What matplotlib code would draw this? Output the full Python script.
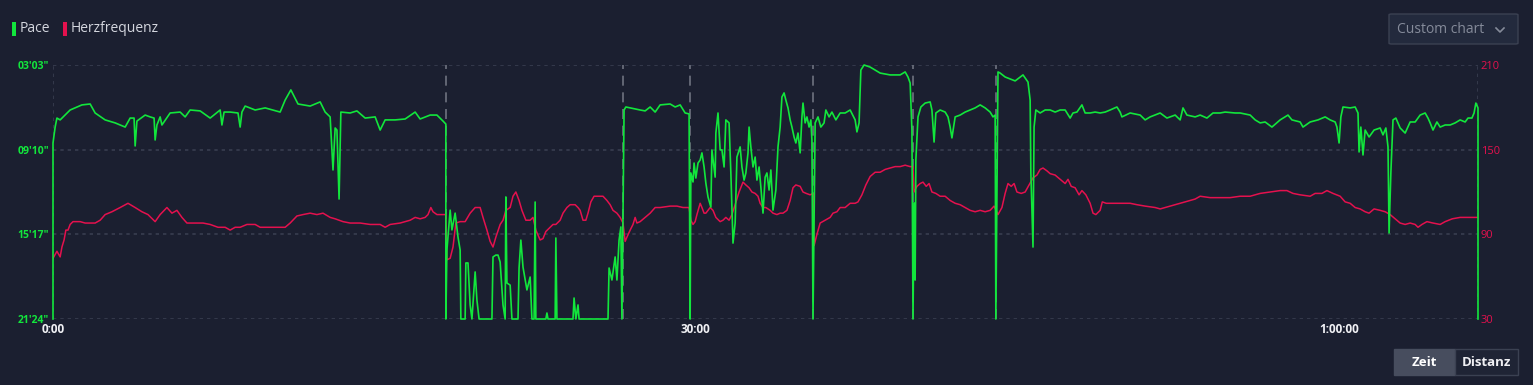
import numpy as np
import matplotlib
matplotlib.use("Agg")
import matplotlib.pyplot as plt
from matplotlib.patches import FancyBboxPatch, Rectangle
from matplotlib.lines import Line2D
from matplotlib.ticker import FuncFormatter

# elapsed time [s] and pace [s/km]; 1284 s/km = standing (bottom of axis)
pace_t = [0, 0, 6, 11, 20, 48, 81, 104, 118, 146, 174, 202, 216, 227, 230, 235, 258, 272, 283, 286,
          291, 300, 305, 328, 356, 370, 384, 412, 440, 468, 473, 479, 496, 518, 524, 529, 538, 566, 594, 636,
          650, 666, 686, 720, 748, 762, 776, 784, 790, 795, 801, 806, 832, 851, 874, 902, 916, 930, 958, 986,
          1014, 1028, 1056, 1075, 1092, 1100, 1100, 1103, 1106, 1112, 1117, 1126, 1134, 1140, 1142, 1154, 1156, 1162, 1168, 1173,
          1182, 1187, 1193, 1229, 1232, 1240, 1246, 1252, 1260, 1266, 1268, 1271, 1280, 1285, 1302, 1305, 1310, 1316, 1327, 1336,
          1341, 1347, 1350, 1352, 1380, 1383, 1386, 1406, 1408, 1411, 1456, 1459, 1464, 1470, 1473, 1554, 1557, 1565, 1574, 1579,
          1585, 1590, 1593, 1599, 1604, 1616, 1644, 1658, 1672, 1686, 1700, 1728, 1742, 1756, 1770, 1781, 1784, 1786, 1792, 1795,
          1800, 1806, 1812, 1817, 1823, 1828, 1834, 1842, 1845, 1854, 1856, 1862, 1868, 1873, 1879, 1884, 1893, 1898, 1904, 1910,
          1915, 1924, 1929, 1935, 1940, 1946, 1949, 1954, 1960, 1966, 1971, 1977, 1982, 1988, 1994, 1999, 2005, 2010, 2016, 2024,
          2030, 2036, 2041, 2047, 2052, 2058, 2064, 2069, 2075, 2080, 2086, 2092, 2097, 2100, 2106, 2111, 2117, 2122, 2125, 2128,
          2134, 2142, 2150, 2159, 2164, 2173, 2181, 2192, 2204, 2218, 2232, 2246, 2251, 2257, 2262, 2271, 2288, 2302, 2316, 2344,
          2372, 2386, 2394, 2400, 2405, 2408, 2411, 2414, 2416, 2422, 2430, 2442, 2456, 2461, 2467, 2472, 2484, 2498, 2506, 2512,
          2517, 2526, 2540, 2554, 2568, 2582, 2596, 2610, 2624, 2632, 2638, 2640, 2646, 2652, 2666, 2694, 2716, 2730, 2736, 2738,
          2744, 2747, 2752, 2764, 2778, 2792, 2806, 2820, 2834, 2848, 2856, 2867, 2881, 2890, 2904, 2918, 2932, 2946, 2960, 2979,
          2988, 2993, 3016, 3044, 3058, 3072, 3100, 3119, 3142, 3156, 3164, 3175, 3198, 3212, 3231, 3248, 3268, 3282, 3310, 3324,
          3352, 3366, 3380, 3394, 3413, 3436, 3458, 3469, 3492, 3500, 3520, 3542, 3562, 3576, 3590, 3595, 3601, 3606, 3612, 3632,
          3646, 3654, 3657, 3662, 3668, 3674, 3685, 3699, 3716, 3724, 3732, 3738, 3741, 3746, 3752, 3760, 3772, 3786, 3800, 3814,
          3828, 3842, 3850, 3856, 3864, 3875, 3884, 3898, 3912, 3926, 3940, 3954, 3962, 3973, 3979, 3984, 3990, 3990]
pace_s = [1284, 521, 452, 413, 421, 378, 356, 352, 391, 421, 434, 452, 413, 413, 534, 426, 400, 408, 413, 508,
          443, 408, 443, 391, 387, 408, 378, 382, 413, 378, 443, 387, 387, 391, 452, 387, 361, 378, 369, 387,
          335, 291, 352, 361, 343, 387, 408, 638, 456, 465, 764, 387, 391, 382, 413, 408, 465, 421, 421, 417,
          387, 417, 400, 400, 426, 439, 1284, 985, 929, 812, 898, 825, 929, 985, 1284, 1284, 1041, 1041, 1223, 1284,
          1080, 1202, 1284, 1284, 1015, 1007, 1007, 1037, 1223, 1284, 755, 1128, 1137, 1284, 1284, 1063, 942, 1059, 1158, 1102,
          1284, 1284, 777, 1284, 1284, 1258, 1284, 1284, 933, 1284, 1284, 1193, 1284, 1223, 1284, 1284, 1063, 1115, 1015, 1115,
          942, 885, 1284, 378, 365, 369, 378, 382, 365, 387, 356, 352, 365, 356, 391, 395, 1284, 651, 690, 608,
          673, 608, 595, 564, 625, 695, 755, 799, 551, 669, 478, 391, 551, 551, 625, 421, 434, 651, 955, 868,
          582, 538, 625, 682, 651, 564, 452, 538, 625, 582, 682, 625, 712, 825, 669, 651, 725, 638, 812, 725,
          538, 452, 322, 304, 335, 369, 421, 452, 495, 521, 478, 564, 408, 348, 434, 408, 452, 421, 508, 1284,
          434, 408, 452, 434, 378, 408, 387, 421, 391, 391, 378, 421, 473, 434, 205, 183, 192, 205, 218, 226,
          226, 213, 235, 261, 465, 1284, 781, 1115, 595, 408, 365, 348, 343, 378, 517, 391, 378, 387, 408, 452,
          499, 408, 400, 387, 378, 369, 356, 369, 387, 408, 400, 1284, 213, 218, 235, 252, 226, 257, 335, 651,
          972, 452, 378, 391, 378, 378, 387, 378, 378, 413, 391, 387, 356, 391, 391, 387, 391, 387, 378, 365,
          387, 408, 391, 400, 421, 408, 391, 413, 400, 421, 369, 400, 408, 400, 413, 391, 391, 387, 391, 391,
          400, 421, 434, 430, 452, 421, 400, 421, 430, 452, 430, 421, 408, 421, 430, 452, 521, 408, 365, 369,
          365, 391, 560, 452, 573, 465, 495, 465, 456, 486, 456, 538, 911, 651, 421, 413, 456, 478, 430, 430,
          400, 391, 413, 434, 465, 430, 452, 443, 443, 434, 421, 430, 413, 413, 391, 348, 369, 1284]

# heart rate [bpm]
hr_t = [0, 11, 20, 25, 31, 36, 42, 48, 56, 76, 90, 104, 118, 132, 146, 165, 188, 210, 230, 249,
        266, 286, 300, 319, 333, 347, 361, 375, 398, 420, 440, 462, 482, 496, 510, 524, 543, 566, 580, 608,
        636, 650, 664, 683, 700, 720, 739, 756, 776, 790, 812, 832, 860, 888, 916, 930, 944, 972, 1000, 1014,
        1028, 1042, 1050, 1058, 1064, 1075, 1092, 1100, 1103, 1112, 1120, 1128, 1140, 1154, 1168, 1182, 1196, 1204, 1215, 1224,
        1232, 1240, 1252, 1260, 1268, 1280, 1288, 1296, 1305, 1313, 1324, 1336, 1344, 1352, 1364, 1372, 1380, 1392, 1400, 1408,
        1420, 1428, 1439, 1448, 1462, 1470, 1476, 1484, 1492, 1498, 1506, 1515, 1526, 1540, 1551, 1560, 1568, 1579, 1588, 1596,
        1602, 1607, 1616, 1624, 1630, 1635, 1644, 1658, 1672, 1686, 1700, 1728, 1747, 1764, 1781, 1786, 1792, 1798, 1803, 1812,
        1817, 1823, 1828, 1840, 1848, 1856, 1868, 1876, 1884, 1893, 1901, 1910, 1921, 1932, 1940, 1949, 1957, 1966, 1974, 1980,
        1988, 1996, 2008, 2016, 2027, 2036, 2044, 2055, 2064, 2072, 2080, 2092, 2100, 2109, 2120, 2128, 2131, 2139, 2148, 2162,
        2176, 2184, 2195, 2204, 2218, 2232, 2246, 2254, 2265, 2276, 2288, 2302, 2316, 2330, 2344, 2358, 2372, 2386, 2400, 2408,
        2411, 2419, 2428, 2436, 2445, 2453, 2461, 2472, 2484, 2498, 2512, 2526, 2540, 2554, 2568, 2582, 2596, 2610, 2624, 2635,
        2646, 2657, 2666, 2674, 2683, 2691, 2699, 2711, 2722, 2733, 2744, 2755, 2764, 2772, 2783, 2792, 2806, 2820, 2834, 2842,
        2851, 2862, 2873, 2881, 2892, 2904, 2912, 2920, 2932, 2938, 2949, 2960, 2988, 3016, 3035, 3058, 3086, 3100, 3114, 3142,
        3170, 3198, 3212, 3240, 3268, 3296, 3324, 3352, 3380, 3408, 3436, 3455, 3472, 3492, 3520, 3534, 3553, 3567, 3584, 3604,
        3618, 3632, 3646, 3660, 3674, 3685, 3699, 3716, 3730, 3744, 3758, 3772, 3786, 3800, 3814, 3822, 3833, 3847, 3864, 3884,
        3898, 3918, 3940, 3954, 3976, 3990]
hr_bpm = [73, 78, 74, 81, 86, 93, 93, 97, 99, 99, 98, 98, 98, 100, 104, 106, 109, 112, 109, 106,
          104, 99, 104, 109, 105, 107, 102, 98, 98, 98, 97, 95, 95, 93, 95, 95, 97, 97, 95, 95,
          95, 95, 98, 103, 104, 105, 104, 105, 102, 101, 99, 98, 98, 97, 97, 95, 97, 98, 100, 102,
          101, 102, 104, 109, 106, 104, 104, 104, 72, 73, 81, 98, 99, 99, 105, 109, 109, 102, 93, 85,
          81, 88, 97, 100, 107, 109, 117, 120, 114, 107, 100, 100, 102, 93, 86, 87, 92, 95, 97, 97,
          100, 105, 109, 111, 111, 109, 107, 100, 100, 105, 113, 117, 117, 117, 114, 111, 107, 105, 102, 98,
          85, 88, 93, 97, 102, 98, 99, 102, 105, 109, 109, 110, 110, 109, 109, 100, 97, 99, 104, 112,
          109, 105, 105, 109, 107, 102, 99, 100, 102, 100, 104, 111, 120, 127, 125, 123, 120, 119, 117, 112,
          109, 109, 107, 105, 104, 105, 105, 107, 114, 123, 125, 124, 120, 119, 118, 119, 82, 90, 98, 100,
          102, 105, 106, 109, 109, 112, 112, 113, 118, 125, 131, 134, 134, 136, 137, 138, 138, 139, 138, 138,
          120, 124, 126, 127, 124, 126, 120, 119, 117, 117, 114, 112, 111, 109, 107, 106, 107, 106, 107, 110,
          104, 109, 119, 126, 124, 126, 120, 119, 120, 125, 130, 132, 136, 137, 135, 133, 132, 129, 126, 129,
          124, 123, 118, 121, 118, 112, 105, 104, 107, 113, 112, 112, 112, 112, 111, 110, 109, 108, 109, 111,
          113, 115, 117, 116, 116, 116, 117, 117, 119, 120, 121, 121, 119, 118, 117, 119, 119, 121, 119, 117,
          113, 112, 109, 108, 106, 105, 108, 107, 106, 104, 101, 98, 97, 98, 97, 95, 97, 99, 98, 97,
          99, 101, 102, 102, 102, 102]

laps = [1100, 1596, 1784, 2128, 2408, 2640]   # lap markers [s]
pace_ticks = [183, 550, 917, 1284]
hr_ticks = [30, 90, 150, 210]
time_ticks = [0, 1800, 3600]
time_labels = ["0:00", "30:00", "1:00:00"]
t_end = 3990

BG = "#1b1f30"
GREEN = "#12e63c"
RED = "#e4114e"
GRID = "#3b4052"

W, H = 1533, 385
plt.rcParams['font.family'] = ['Open Sans', 'DejaVu Sans']
fig = plt.figure(figsize=(W / 100, H / 100), dpi=100, facecolor=BG)

def fx(px):
    return px / W

def fy(py):
    return 1 - py / H

ax = fig.add_axes([fx(53), fy(319), fx(1478) - fx(53), fy(65) - fy(319)])
ax2 = ax.twinx()
ax.set_facecolor(BG)
ax.set_zorder(ax2.get_zorder() + 1)
ax.patch.set_visible(False)
ax2.set_facecolor(BG)

# grid
for v in hr_ticks:
    ax2.axhline(v, color=GRID, lw=1.1, ls=(0, (2.2, 2.6)), zorder=0)
for v in [0, t_end]:
    ax2.axvline(v, color=GRID, lw=1.1, ls=(0, (2.2, 2.6)), zorder=0)
for v in laps:
    ax2.axvline(v, color="#6f7380", lw=1.2, ls=(0, (6, 4)), zorder=1)

ax2.plot(hr_t, hr_bpm, color=RED, lw=1.1, zorder=3)
ax.plot(pace_t, pace_s, color=GREEN, lw=1.2, zorder=4, clip_on=False)

ax.set_xlim(0, t_end)
ax.set_ylim(1284, 183)
ax2.set_ylim(30, 210)

ax.set_yticks(pace_ticks)
ax.yaxis.set_major_formatter(FuncFormatter(lambda v, p: "%02d'%02d\"" % (int(v) // 60, int(v) % 60)))
ax2.set_yticks(hr_ticks)
ax.set_xticks(time_ticks)
ax.set_xticklabels(time_labels)

for a in (ax, ax2):
    for s in a.spines.values():
        s.set_visible(False)
ax.tick_params(axis="y", length=0, pad=3, labelsize=7.5, labelcolor=GREEN)
ax2.tick_params(axis="y", length=0, pad=2, labelsize=8, labelcolor=RED)
ax.tick_params(axis="x", length=0, pad=3, labelsize=8.5, labelcolor="#f0f0f4")
for lbl in ax.get_yticklabels() + ax.get_xticklabels():
    lbl.set_fontweight("bold")

# legend
fig.patches.append(Rectangle((fx(12), fy(36)), fx(4), fy(22) - fy(36), transform=fig.transFigure,
                             facecolor=GREEN, edgecolor="none"))
fig.text(fx(20), fy(29), "Pace", color="#d4d6de", fontsize=10, va="center", ha="left")
fig.patches.append(Rectangle((fx(63), fy(36)), fx(4), fy(22) - fy(36), transform=fig.transFigure,
                             facecolor=RED, edgecolor="none"))
fig.text(fx(71), fy(29), "Herzfrequenz", color="#d4d6de", fontsize=10, va="center", ha="left")

# "Custom chart" dropdown
fig.patches.append(FancyBboxPatch((fx(1389), fy(44)), fx(129), fy(14) - fy(44), transform=fig.transFigure,
                                  boxstyle="round,pad=0,rounding_size=0.002",
                                  facecolor="#232a3d", edgecolor="#3b4152", lw=1))
fig.text(fx(1397), fy(29.5), "Custom chart", color="#858b9a", fontsize=10, va="center", ha="left")
fig.lines.append(Line2D([fx(1496), fx(1500), fx(1504)], [fy(28), fy(32), fy(28)], transform=fig.transFigure,
                        color="#858b9a", lw=1.2))

# Zeit / Distanz toggle
fig.patches.append(Rectangle((fx(1394), fy(375)), fx(61), fy(349) - fy(375), transform=fig.transFigure,
                             facecolor="#474d5e", edgecolor="#474d5e", lw=1))
fig.patches.append(Rectangle((fx(1455), fy(375)), fx(63), fy(349) - fy(375), transform=fig.transFigure,
                             facecolor="#1f2435", edgecolor="#3b4152", lw=1))
fig.text(fx(1424.5), fy(362), "Zeit", color="#ffffff", fontsize=9.5, fontweight="bold", va="center", ha="center")
fig.text(fx(1486.5), fy(362), "Distanz", color="#f0f0f4", fontsize=9.5, fontweight="bold", va="center", ha="center")

fig.savefig("out.png", dpi=100, facecolor=BG)
